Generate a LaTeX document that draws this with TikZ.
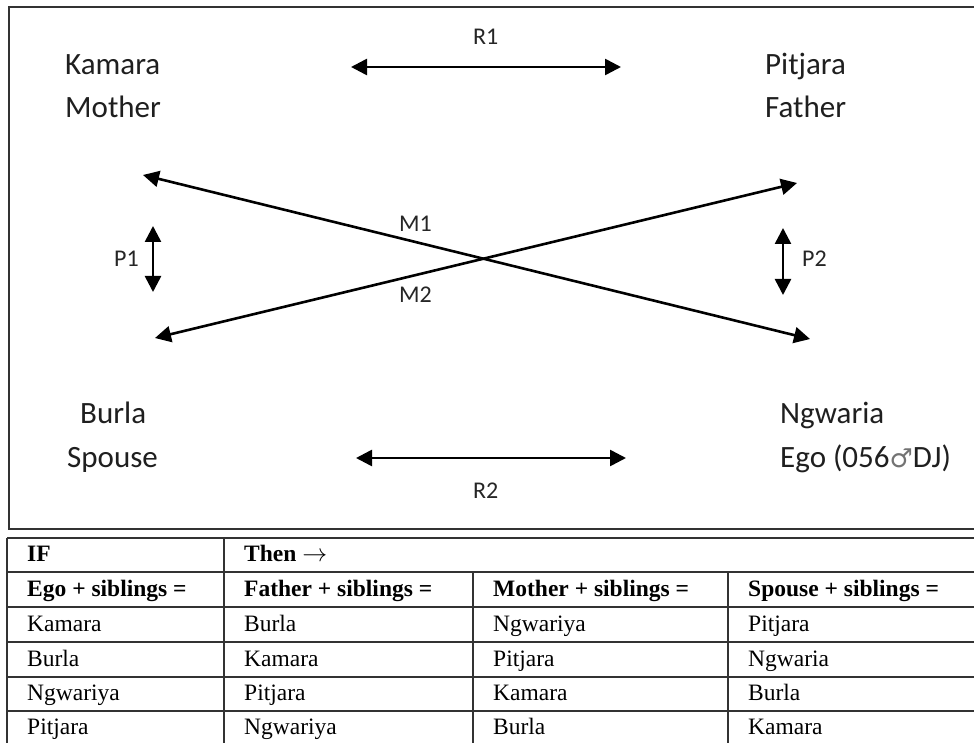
\documentclass[tikz,border=0pt]{standalone}
\usepackage{fontspec}
\setmainfont{Liberation Serif}
\newfontfamily\diagfont{Carlito}
\newfontfamily\symbfont{DejaVu Sans}
\usetikzlibrary{arrows.meta}
\tikzset{
  big/.style={font=\diagfont\fontsize{31}{31}\selectfont, inner sep=0pt, anchor=base west, text=black!88},
  tag/.style={font=\diagfont\fontsize{24}{24}\selectfont, inner sep=0pt, anchor=base west, text=black!85},
  dbl/.style={line width=2.6pt, {Triangle[length=16pt,width=16pt]}-{Triangle[length=16pt,width=16pt]}},
  frameline/.style={line width=1.5pt, black!80},
  cell/.style={font=\fontsize{23.5}{23.5}\selectfont, inner sep=0pt, anchor=base west},
  hcell/.style={font=\bfseries\fontsize{23.5}{23.5}\selectfont, inner sep=0pt, anchor=base west}
}
\begin{document}
\begin{tikzpicture}[x=1pt,y=-1pt]
\useasboundingbox (0,0) rectangle (974,743);
\clip (0,0) rectangle (974,743);
\fill[white] (0,0) rectangle (974,743);
% frame
\draw[frameline] (9,7) rectangle (975,529);
% labels
\node[big] (kam) at (65,75) {Kamara};
\node[big] (mot) at (65,118) {Mother};
\node[big] (pit) at (765,75) {Pitjara};
\node[big] (fat) at (765,118) {Father};
\node[big] (bur) at (80,423) {Burla};
\node[big] (spo) at (67,467) {Spouse};
\node[big] (ngw) at (780,423) {Ngwaria};
\node[big] (ego) at (780,467) {Ego (056{\symbfont\fontsize{26}{26}\selectfont\color{black!55}♂}DJ)};
\node[tag] (r1) at (473,45) {R1};
\node[tag] (r2) at (473,498) {R2};
\node[tag] (m1) at (399,232) {M1};
\node[tag] (m2) at (399,302) {M2};
\node[tag] (p1) at (114,266) {P1};
\node[tag] (p2) at (802,266) {P2};
% arrow ends
\coordinate (r1a) at (351,67);
\coordinate (r1b) at (621,67);
\coordinate (r2a) at (356,458);
\coordinate (r2b) at (626,458);
\coordinate (xa1) at (143,175);
\coordinate (xa2) at (810,339);
\coordinate (xb1) at (155,338);
\coordinate (xb2) at (797,183);
\coordinate (p1a) at (153,226);
\coordinate (p1b) at (153,292);
\coordinate (p2a) at (783,228);
\coordinate (p2b) at (783,295);
\draw[dbl] (r1a) -- (r1b);
\draw[dbl] (r2a) -- (r2b);
\draw[dbl] (xa1) -- (xa2);
\draw[dbl] (xb1) -- (xb2);
\draw[dbl] (p1a) -- (p1b);
\draw[dbl] (p2a) -- (p2b);
% table
\draw[frameline] (7,538) -- (980,538);
\draw[frameline] (7,572) -- (980,572);
\draw[frameline] (7,607) -- (980,607);
\draw[frameline] (7,642) -- (980,642);
\draw[frameline] (7,677) -- (980,677);
\draw[frameline] (7,711) -- (980,711);
\draw[frameline] (7,746) -- (980,746);
\draw[frameline] (7,538) -- (7,750);
\draw[frameline] (224,538) -- (224,750);
\draw[frameline] (473,572) -- (473,750);
\draw[frameline] (728,572) -- (728,750);
\draw[frameline] (974.5,538) -- (974.5,750);
\node[hcell] (t00) at (27,561) {IF};
\node[hcell] (t01) at (244,561) {Then $\rightarrow$};
\node[hcell] (t10) at (27,596) {Ego + siblings =};
\node[hcell] (t11) at (244,596) {Father + siblings =};
\node[hcell] (t12) at (493,596) {Mother + siblings =};
\node[hcell] (t13) at (748,596) {Spouse + siblings =};
\node[cell] (t20) at (27,631) {Kamara};
\node[cell] (t21) at (244,631) {Burla};
\node[cell] (t22) at (493,631) {Ngwariya};
\node[cell] (t23) at (748,631) {Pitjara};
\node[cell] (t30) at (27,666) {Burla};
\node[cell] (t31) at (244,666) {Kamara};
\node[cell] (t32) at (493,666) {Pitjara};
\node[cell] (t33) at (748,666) {Ngwaria};
\node[cell] (t40) at (27,700) {Ngwariya};
\node[cell] (t41) at (244,700) {Pitjara};
\node[cell] (t42) at (493,700) {Kamara};
\node[cell] (t43) at (748,700) {Burla};
\node[cell] (t50) at (27,734) {Pitjara};
\node[cell] (t51) at (244,734) {Ngwariya};
\node[cell] (t52) at (493,734) {Burla};
\node[cell] (t53) at (748,734) {Kamara};
\end{tikzpicture}
\end{document}
